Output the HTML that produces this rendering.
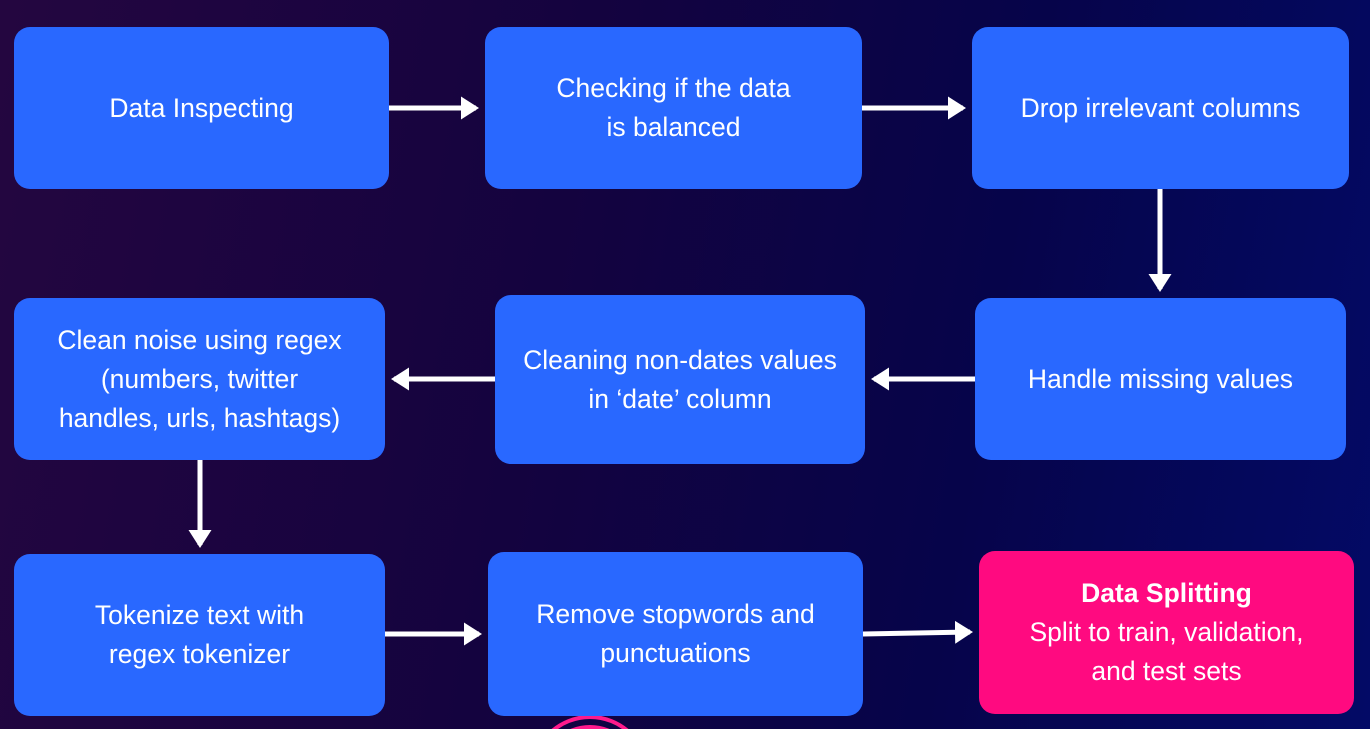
<!DOCTYPE html>
<html><head><meta charset="utf-8"><style>
html,body{margin:0;width:1370px;height:729px;overflow:hidden}
body{background:linear-gradient(100deg,#240640 0%,#14033f 40%,#06044a 70%,#030a66 100%);font-family:"Liberation Sans","DejaVu Sans",sans-serif;position:relative}
.b{position:absolute;background:#2968ff;border-radius:16px;color:#fff;display:flex;align-items:center;justify-content:center;text-align:center;font-size:26.5px;line-height:39px}
svg{position:absolute;left:0;top:0;overflow:hidden}
</style></head><body>
<svg width="1370" height="729">
<g fill="none" stroke="#ff1a8c" stroke-width="4">
<circle cx="590" cy="775" r="58"/><circle cx="590" cy="775" r="48"/><circle cx="590" cy="775" r="38"/>
</g>
</svg>
<div class="b" style="left:14px;top:27px;width:375px;height:162px">Data Inspecting</div>
<div class="b" style="left:485px;top:27px;width:377px;height:162px">Checking if the data<br>is balanced</div>
<div class="b" style="left:972px;top:27px;width:377px;height:162px">Drop irrelevant columns</div>
<div class="b" style="left:14px;top:298px;width:371px;height:162px">Clean noise using regex<br>(numbers, twitter<br>handles, urls, hashtags)</div>
<div class="b" style="left:495px;top:295px;width:370px;height:169px">Cleaning non-dates values<br>in ‘date’ column</div>
<div class="b" style="left:975px;top:298px;width:371px;height:162px">Handle missing values</div>
<div class="b" style="left:14px;top:554px;width:371px;height:162px">Tokenize text with<br>regex tokenizer</div>
<div class="b" style="left:488px;top:552px;width:375px;height:164px">Remove stopwords and<br>punctuations</div>
<div class="b" style="left:979px;top:551px;width:375px;height:163px;background:#ff0a80"><div><b>Data Splitting</b><br>Split to train, validation,<br>and test sets</div></div>
<svg width="1370" height="729">
<defs><marker id="a" markerWidth="5" markerHeight="5" refX="3" refY="2.5" orient="auto" markerUnits="strokeWidth"><path d="M0,0.2 L3.6,2.5 L0,4.8 Z" fill="#fff"/></marker></defs>
<g stroke="#fff" stroke-width="5" fill="none" marker-end="url(#a)">
<line x1="389" y1="108" x2="476" y2="108"/>
<line x1="862" y1="108" x2="963" y2="108"/>
<line x1="1160" y1="189" x2="1160" y2="289"/>
<line x1="975" y1="379" x2="874" y2="379"/>
<line x1="495" y1="379" x2="394" y2="379"/>
<line x1="200" y1="460" x2="200" y2="545"/>
<line x1="385" y1="634" x2="479" y2="634"/>
<line x1="863" y1="634" x2="970" y2="632"/>
</g></svg>
</body></html>
